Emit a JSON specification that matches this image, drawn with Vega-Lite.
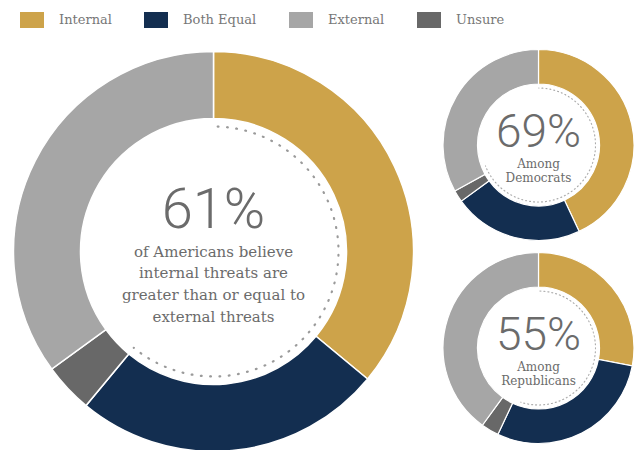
{
  "$schema": "https://vega.github.io/schema/vega-lite/v6.json",
  "padding": {"left": 10.5, "top": 5.5, "right": 0, "bottom": 0},
  "bounds": "flush",
  "background": "#ffffff",
  "datasets": {
    "shares": [
      {"group": "All", "answer": "Internal", "value": 36, "order": 1},
      {"group": "All", "answer": "Both Equal", "value": 25, "order": 2},
      {"group": "All", "answer": "Unsure", "value": 4, "order": 3},
      {"group": "All", "answer": "External", "value": 35, "order": 4},
      {"group": "Democrats", "answer": "Internal", "value": 43, "order": 1},
      {"group": "Democrats", "answer": "Both Equal", "value": 22, "order": 2},
      {"group": "Democrats", "answer": "Unsure", "value": 2, "order": 3},
      {"group": "Democrats", "answer": "External", "value": 33, "order": 4},
      {"group": "Republicans", "answer": "Internal", "value": 28, "order": 1},
      {"group": "Republicans", "answer": "Both Equal", "value": 29, "order": 2},
      {"group": "Republicans", "answer": "Unsure", "value": 3, "order": 3},
      {"group": "Republicans", "answer": "External", "value": 40, "order": 4}
    ],
    "dots": [
      {"group": "All", "part": "internal or equal", "value": 61, "marked": true, "order": 1},
      {"group": "All", "part": "rest", "value": 39, "marked": false, "order": 2},
      {"group": "Democrats", "part": "internal or equal", "value": 69, "marked": true, "order": 1},
      {"group": "Democrats", "part": "rest", "value": 31, "marked": false, "order": 2},
      {"group": "Republicans", "part": "internal or equal", "value": 55, "marked": true, "order": 1},
      {"group": "Republicans", "part": "rest", "value": 45, "marked": false, "order": 2}
    ],
    "labels": [
      {"group": "All", "figure": "61%", "caption": "of Americans believe\ninternal threats are\ngreater than or equal to\nexternal threats"},
      {"group": "Democrats", "figure": "69%", "caption": "Among\nDemocrats"},
      {"group": "Republicans", "figure": "55%", "caption": "Among\nRepublicans"}
    ]
  },
  "config": {
    "view": {"stroke": null},
    "concat": {"spacing": 12},
    "legend": {
      "orient": "top",
      "direction": "horizontal",
      "symbolType": "M-1,-1H2V1H-1Z",
      "symbolSize": 256,
      "symbolStrokeWidth": 0,
      "labelFont": "DejaVu Serif",
      "labelFontSize": 13,
      "labelColor": "#777777",
      "labelOffset": 23,
      "columnPadding": 32,
      "padding": 6.5,
      "offset": 12.5
    }
  },
  "hconcat": [
    {
      "width": 400,
      "height": 404,
      "layer": [
        {
          "data": {"name": "shares"},
          "transform": [{"filter": "datum.group === 'All'"}],
          "mark": {"type": "arc", "innerRadius": 133, "outerRadius": 200, "stroke": "#ffffff", "strokeWidth": 1.5},
          "encoding": {
            "theta": {"field": "value", "type": "quantitative", "stack": true},
            "order": {"field": "order", "type": "quantitative"},
            "color": {
              "field": "answer", "type": "nominal",
              "scale": {"domain": ["Internal", "Both Equal", "External", "Unsure"], "range": ["#CDA34A", "#132E50", "#A6A6A6", "#686868"]},
              "legend": {"title": null}
            }
          }
        },
        {
          "data": {"name": "dots"},
          "transform": [{"filter": "datum.group === 'All'"}],
          "mark": {"type": "arc", "innerRadius": 125, "outerRadius": 125, "filled": false, "color": "#9a9a9a", "strokeWidth": 2.2, "strokeCap": "round", "strokeDash": [0.1, 9.2028]},
          "encoding": {
            "theta": {"field": "value", "type": "quantitative", "stack": true},
            "order": {"field": "order", "type": "quantitative"},
            "strokeOpacity": {"condition": {"test": "datum.marked", "value": 1}, "value": 0}
          }
        },
        {
          "data": {"name": "labels"},
          "transform": [{"filter": "datum.group === 'All'"}],
          "mark": {"type": "text", "font": "Roboto", "fontWeight": 300, "fontSize": 56, "color": "#6b6b6b", "align": "center", "baseline": "alphabetic", "dy": -23.7},
          "encoding": {"text": {"field": "figure", "type": "nominal"}}
        },
        {
          "data": {"name": "labels"},
          "transform": [{"filter": "datum.group === 'All'"}],
          "mark": {"type": "text", "font": "DejaVu Serif", "fontSize": 15, "lineHeight": 21.7, "lineBreak": "\n", "color": "#6b6b6b", "align": "center", "baseline": "alphabetic", "dy": 5},
          "encoding": {"text": {"field": "caption", "type": "nominal"}}
        }
      ]
    },
    {
      "bounds": "flush",
      "spacing": 12,
      "vconcat": [
        {
          "width": 191,
          "height": 191,
          "layer": [
            {
              "data": {"name": "shares"},
              "transform": [{"filter": "datum.group === 'Democrats'"}],
              "mark": {"type": "arc", "innerRadius": 61, "outerRadius": 95.5, "stroke": "#ffffff", "strokeWidth": 1.2},
              "encoding": {
                "theta": {"field": "value", "type": "quantitative", "stack": true},
                "order": {"field": "order", "type": "quantitative"},
                "color": {
                  "field": "answer", "type": "nominal",
                  "scale": {"domain": ["Internal", "Both Equal", "External", "Unsure"], "range": ["#CDA34A", "#132E50", "#A6A6A6", "#686868"]},
                  "legend": {"title": null}
                }
              }
            },
            {
              "data": {"name": "dots"},
              "transform": [{"filter": "datum.group === 'Democrats'"}],
              "mark": {"type": "arc", "innerRadius": 57, "outerRadius": 57, "filled": false, "color": "#aaaaaa", "strokeWidth": 1.2, "strokeCap": "round", "strokeDash": [0.1, 3.8858]},
              "encoding": {
                "theta": {"field": "value", "type": "quantitative", "stack": true},
                "order": {"field": "order", "type": "quantitative"},
                "strokeOpacity": {"condition": {"test": "datum.marked", "value": 1}, "value": 0}
              }
            },
            {
              "data": {"name": "labels"},
              "transform": [{"filter": "datum.group === 'Democrats'"}],
              "mark": {"type": "text", "font": "Roboto", "fontWeight": 300, "fontSize": 46, "color": "#6b6b6b", "align": "center", "baseline": "alphabetic", "dy": 1.5},
              "encoding": {"text": {"field": "figure", "type": "nominal"}}
            },
            {
              "data": {"name": "labels"},
              "transform": [{"filter": "datum.group === 'Democrats'"}],
              "mark": {"type": "text", "font": "DejaVu Serif", "fontSize": 12, "lineHeight": 13.5, "lineBreak": "\n", "color": "#6b6b6b", "align": "center", "baseline": "alphabetic", "dy": 23},
              "encoding": {"text": {"field": "caption", "type": "nominal"}}
            }
          ]
        },
        {
          "width": 191,
          "height": 191,
          "layer": [
            {
              "data": {"name": "shares"},
              "transform": [{"filter": "datum.group === 'Republicans'"}],
              "mark": {"type": "arc", "innerRadius": 61, "outerRadius": 95.5, "stroke": "#ffffff", "strokeWidth": 1.2},
              "encoding": {
                "theta": {"field": "value", "type": "quantitative", "stack": true},
                "order": {"field": "order", "type": "quantitative"},
                "color": {
                  "field": "answer", "type": "nominal",
                  "scale": {"domain": ["Internal", "Both Equal", "External", "Unsure"], "range": ["#CDA34A", "#132E50", "#A6A6A6", "#686868"]},
                  "legend": {"title": null}
                }
              }
            },
            {
              "data": {"name": "dots"},
              "transform": [{"filter": "datum.group === 'Republicans'"}],
              "mark": {"type": "arc", "innerRadius": 57, "outerRadius": 57, "filled": false, "color": "#aaaaaa", "strokeWidth": 1.2, "strokeCap": "round", "strokeDash": [0.1, 3.87935]},
              "encoding": {
                "theta": {"field": "value", "type": "quantitative", "stack": true},
                "order": {"field": "order", "type": "quantitative"},
                "strokeOpacity": {"condition": {"test": "datum.marked", "value": 1}, "value": 0}
              }
            },
            {
              "data": {"name": "labels"},
              "transform": [{"filter": "datum.group === 'Republicans'"}],
              "mark": {"type": "text", "font": "Roboto", "fontWeight": 300, "fontSize": 46, "color": "#6b6b6b", "align": "center", "baseline": "alphabetic", "dy": 2},
              "encoding": {"text": {"field": "figure", "type": "nominal"}}
            },
            {
              "data": {"name": "labels"},
              "transform": [{"filter": "datum.group === 'Republicans'"}],
              "mark": {"type": "text", "font": "DejaVu Serif", "fontSize": 12, "lineHeight": 13.5, "lineBreak": "\n", "color": "#6b6b6b", "align": "center", "baseline": "alphabetic", "dy": 23},
              "encoding": {"text": {"field": "caption", "type": "nominal"}}
            }
          ]
        }
      ]
    }
  ],
  "spacing": 29.5
}
